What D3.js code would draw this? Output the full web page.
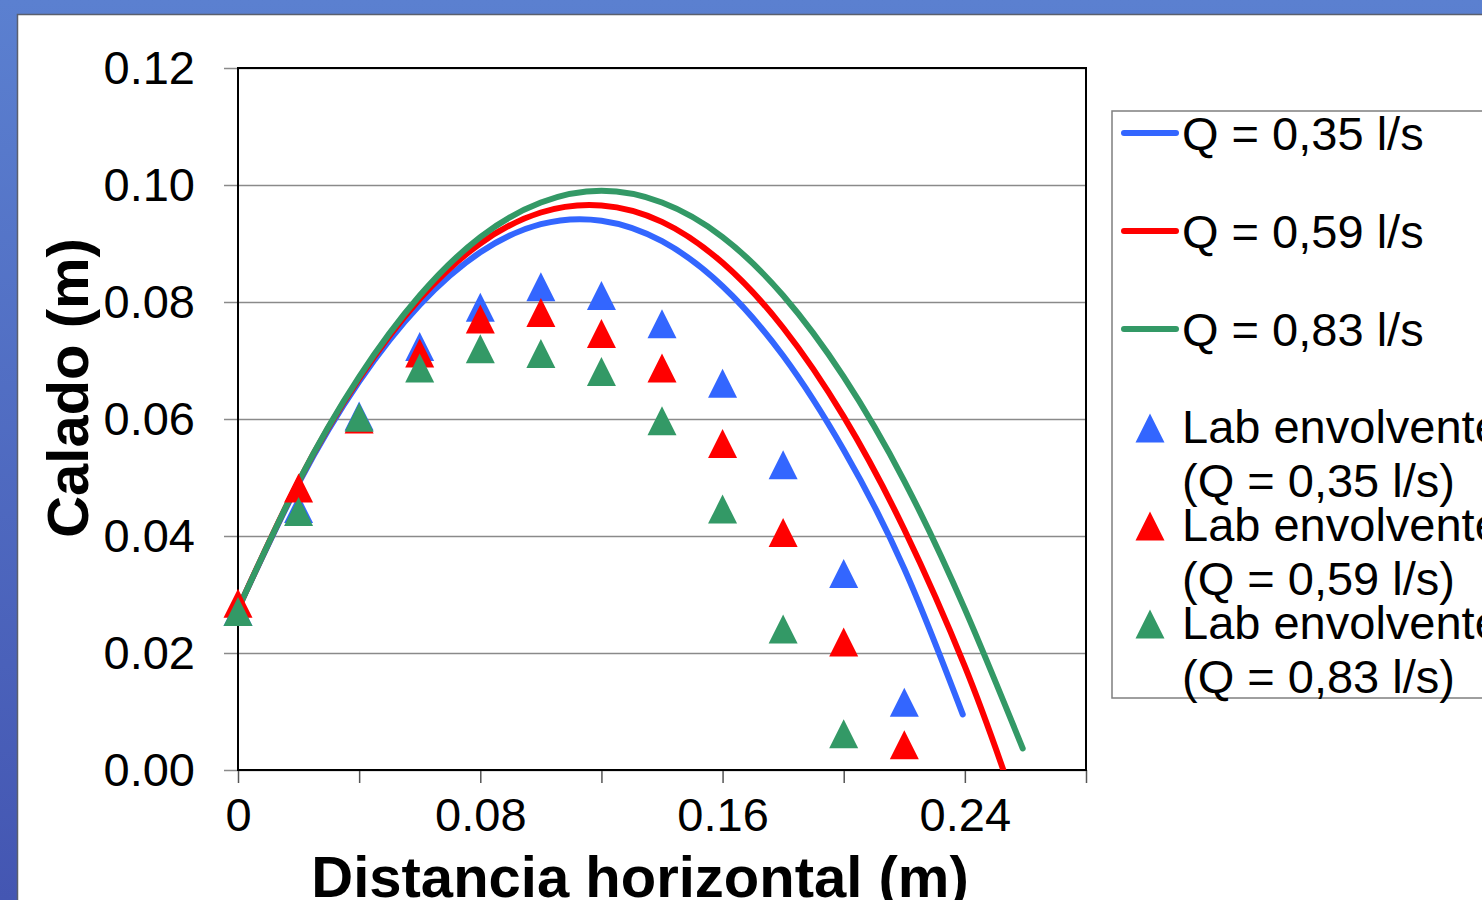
<!DOCTYPE html>
<html>
<head>
<meta charset="utf-8">
<script src="https://cdn.jsdelivr.net/npm/d3@7"></script>
<style>
  body { margin: 0; overflow: hidden; background: #fff; }
  svg { display: block; font-family: "Liberation Sans", Arial, sans-serif; }
</style>
</head>
<body>
<svg id="chart"></svg>
<script>
// axis ticks
const xTickValues = [0, 0.04, 0.08, 0.12, 0.16, 0.2, 0.24, 0.28];
const xTickLabels = ["0", "", "0.08", "", "0.16", "", "0.24", ""];
const yTickValues = [0, 0.02, 0.04, 0.06, 0.08, 0.1, 0.12];
const yTickLabels = ["0.00", "0.02", "0.04", "0.06", "0.08", "0.10", "0.12"];

// legend texts
const curveLabels = ["Q = 0,35 l/s", "Q = 0,59 l/s", "Q = 0,83 l/s"];
const labLabels = [
  ["Lab envolvente", "(Q = 0,35 l/s)"],
  ["Lab envolvente", "(Q = 0,59 l/s)"],
  ["Lab envolvente", "(Q = 0,83 l/s)"]
];

// theoretical trajectories
const curveX035 = [0, 0.02, 0.04, 0.06, 0.08, 0.10, 0.12, 0.14, 0.16, 0.18, 0.20, 0.22, 0.2393];
const curveY035 = [0.0275, 0.0490, 0.0664, 0.0795, 0.0885, 0.0933, 0.0939, 0.0904, 0.0827, 0.0708, 0.0547, 0.0344, 0.0095];
const curveX059 = [0, 0.02, 0.04, 0.06, 0.08, 0.10, 0.12, 0.14, 0.16, 0.18, 0.20, 0.22, 0.24, 0.2527];
const curveY059 = [0.0275, 0.0493, 0.0669, 0.0805, 0.0900, 0.0953, 0.0965, 0.0937, 0.0867, 0.0756, 0.0604, 0.0411, 0.0177, 0.0];
const curveX083 = [0, 0.02, 0.04, 0.06, 0.08, 0.10, 0.12, 0.14, 0.16, 0.18, 0.20, 0.22, 0.24, 0.2591];
const curveY083 = [0.0275, 0.0493, 0.0672, 0.0811, 0.0911, 0.0970, 0.0990, 0.0970, 0.0911, 0.0811, 0.0672, 0.0494, 0.0275, 0.0037];

// lab measurements
const labX = [0, 0.02, 0.04, 0.06, 0.08, 0.10, 0.12, 0.14, 0.16, 0.18, 0.20, 0.22];
const lab035 = [0.0271, 0.0447, 0.0605, 0.0724, 0.0791, 0.0826, 0.0811, 0.0763, 0.0661, 0.0522, 0.0336, 0.0116];
const lab059 = [0.0285, 0.0482, 0.0600, 0.0713, 0.0771, 0.0782, 0.0746, 0.0687, 0.0558, 0.0406, 0.0219, 0.0043];
const lab083 = [0.0271, 0.0442, 0.0603, 0.0687, 0.0720, 0.0712, 0.0681, 0.0597, 0.0446, 0.0241, 0.0062];

const colors = ["#3366ff", "#ff0000", "#339966"];

let svg = d3.select("#chart").attr("width", 1482).attr("height", 900),
  margin = { top: 68, left: 238 },
  width = 848,
  height = 702;

let defs = svg.append("defs");
let grad = defs.append("linearGradient").attr("id", "bg").attr("x1", 0).attr("y1", 0).attr("x2", 0).attr("y2", 1);
grad.append("stop").attr("offset", "0%").attr("stop-color", "#5b80d0");
grad.append("stop").attr("offset", "100%").attr("stop-color", "#4456b2");
defs.append("clipPath").attr("id", "plotclip")
  .append("rect").attr("x", 0).attr("y", 0).attr("width", width).attr("height", height);

// slide background + white panel
svg.append("rect").attr("width", 1482).attr("height", 900).attr("fill", "url(#bg)");
svg.append("rect").attr("x", 17.5).attr("y", 14.5).attr("width", 1500).attr("height", 900)
  .attr("fill", "#fff").attr("stroke", "#5a5f6e").attr("stroke-width", 1.5);

let xScale = d3.scaleLinear().domain([0, 0.28]).range([0, width]),
  yScale = d3.scaleLinear().domain([0, 0.12]).range([height, 0]);

let g = svg.append("g").attr("transform", "translate(" + margin.left + "," + margin.top + ")");

// y axis with gridlines
let yAxis = g.append("g")
  .call(d3.axisLeft(yScale).tickValues(yTickValues).tickSize(-width).tickPadding(43)
    .tickFormat((d, i) => yTickLabels[i]));
yAxis.select(".domain").remove();
yAxis.selectAll(".tick line").attr("x1", -14).attr("stroke", "#8a8a8a").attr("stroke-width", 1.5);
yAxis.selectAll(".tick text").attr("font-size", "47px").attr("fill", "#000")
  .attr("font-family", "Liberation Sans, Arial, sans-serif");

// x axis
let xAxis = g.append("g")
  .attr("transform", "translate(0," + height + ")")
  .call(d3.axisBottom(xScale).tickValues(xTickValues).tickSize(13).tickPadding(15)
    .tickFormat((d, i) => xTickLabels[i]));
xAxis.select(".domain").remove();
xAxis.selectAll(".tick line").attr("stroke", "#555").attr("stroke-width", 1.5);
xAxis.selectAll(".tick text").attr("font-size", "47px").attr("fill", "#000")
  .attr("font-family", "Liberation Sans, Arial, sans-serif");

// frame
g.append("rect").attr("width", width).attr("height", height)
  .attr("fill", "none").attr("stroke", "#000").attr("stroke-width", 2);

// curves
let line = d3.line()
  .x((d) => xScale(d[0]))
  .y((d) => yScale(d[1]))
  .curve(d3.curveNatural);

let curves = [d3.zip(curveX035, curveY035), d3.zip(curveX059, curveY059), d3.zip(curveX083, curveY083)];
g.append("g").attr("clip-path", "url(#plotclip)")
  .selectAll("path")
  .data(curves)
  .enter()
  .append("path")
  .attr("d", line)
  .attr("fill", "none")
  .attr("stroke", (d, i) => colors[i])
  .attr("stroke-width", 6)
  .attr("stroke-linecap", "round")
  .attr("stroke-linejoin", "round");

// triangle marker, box centred on the point
const triangle = {
  draw(ctx, size) {
    const r = Math.sqrt(size) / 2;
    ctx.moveTo(0, -r);
    ctx.lineTo(r, r);
    ctx.lineTo(-r, r);
    ctx.closePath();
  }
};
let marker = d3.symbol().type(triangle).size(29 * 29);

let labSeries = [lab035, lab059, lab083];
labSeries.forEach((vals, s) => {
  g.append("g")
    .selectAll("path")
    .data(vals.map((v, i) => [labX[i], v]))
    .enter()
    .append("path")
    .attr("d", marker)
    .attr("transform", (d) => "translate(" + xScale(d[0]) + "," + yScale(d[1]) + ")")
    .attr("fill", colors[s]);
});

// axis titles
svg.append("text")
  .attr("transform", "translate(88,388) rotate(-90)")
  .attr("text-anchor", "middle")
  .attr("font-size", "58px")
  .attr("font-weight", "bold")
  .text("Calado (m)");

svg.append("text")
  .attr("x", 640)
  .attr("y", 897)
  .attr("text-anchor", "middle")
  .attr("font-size", "58px")
  .attr("font-weight", "bold")
  .text("Distancia horizontal (m)");

// legend
let legend = svg.append("g");
legend.append("rect").attr("x", 1112).attr("y", 111).attr("width", 420).attr("height", 587)
  .attr("fill", "#fff").attr("stroke", "#7f7f7f").attr("stroke-width", 1.5);

curveLabels.forEach((lab, i) => {
  let y = 133 + i * 98;
  legend.append("line").attr("x1", 1124).attr("x2", 1176).attr("y1", y).attr("y2", y)
    .attr("stroke", colors[i]).attr("stroke-width", 6).attr("stroke-linecap", "round");
  legend.append("text").attr("x", 1182).attr("y", y + 17).attr("font-size", "47px").text(lab);
});

labLabels.forEach((lab, i) => {
  let y = 428 + i * 98;
  legend.append("path").attr("d", marker).attr("transform", "translate(1150," + y + ")").attr("fill", colors[i]);
  legend.append("text").attr("x", 1182).attr("y", y + 15).attr("font-size", "47px").text(lab[0]);
  legend.append("text").attr("x", 1182).attr("y", y + 69).attr("font-size", "47px").text(lab[1]);
});
</script>
</body>
</html>
